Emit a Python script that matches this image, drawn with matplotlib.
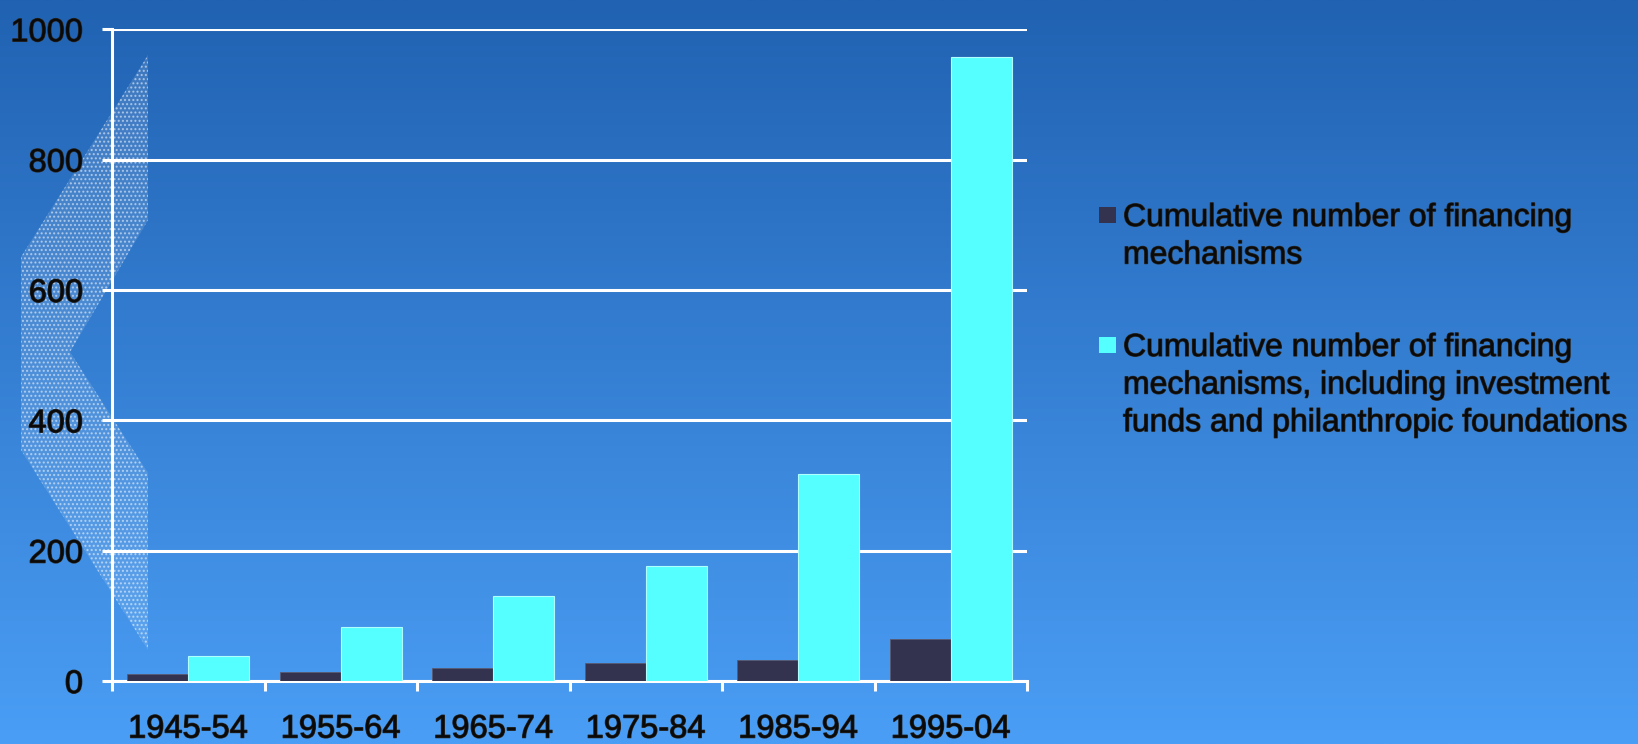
import numpy as np
import matplotlib
matplotlib.use("Agg")
import matplotlib.pyplot as plt
import matplotlib.patheffects as pe
from matplotlib.patches import Polygon, Rectangle

# data
periods = ["1945-54", "1955-64", "1965-74", "1975-84", "1985-94", "1995-04"]
mechanisms = [10, 14, 20, 27, 32, 65]
mechanisms_incl = [38, 83, 130, 176, 317, 957]
series_labels = [
    "Cumulative number of financing\nmechanisms",
    "Cumulative number of financing\nmechanisms, including investment\nfunds and philanthropic foundations",
]
series_colors = ["#33334f", "#55ffff"]
yticks = [0, 200, 400, 600, 800, 1000]

W, H = 1638, 744
plt.rcParams["font.family"] = ["Liberation Sans", "DejaVu Sans"]
fig = plt.figure(figsize=(W / 100, H / 100), dpi=100)
thick = [pe.withStroke(linewidth=0.9, foreground="#2a2a2a")]

# background: vertical blue gradient, in pixel coords (y down)
bg = fig.add_axes([0, 0, 1, 1], zorder=0)
bg.set_axis_off()
top = np.array([33, 98, 178]) / 255
bot = np.array([74, 158, 245]) / 255
t = np.linspace(0, 1, 256)[:, None]
grad = top + (bot - top) * t
bg.imshow(grad[:, None, :], aspect="auto", extent=[0, W, H, 0],
          interpolation="bilinear")
bg.set_xlim(0, W)
bg.set_ylim(H, 0)

# dotted chevron decoration on the left
chev = [(148, 55), (148, 220), (70, 352), (148, 473), (148, 650),
        (21, 450), (21, 257)]
bg.add_patch(Polygon(chev, closed=True, facecolor=(1, 1, 1, 0.12),
                     edgecolor=(1, 1, 1, 0.5), hatch="....", lw=0))

# main chart
ax = fig.add_axes([112 / W, (H - 681) / H, (1027 - 112) / W, (681 - 29.3) / H],
                  zorder=1)
ax.set_facecolor("none")
x = np.arange(len(periods)) + 0.5
w = 0.4
ax.bar(x - w / 2, mechanisms, w, color=series_colors[0],
       edgecolor="#5a5a70", lw=0.6, zorder=3)
ax.bar(x + w / 2, mechanisms_incl, w, color=series_colors[1],
       edgecolor="#b0ffff", lw=0.8, zorder=3)

ax.set_xlim(0, len(periods))
ax.set_ylim(0, 1000)
ax.set_yticks(yticks)
ax.yaxis.grid(True, color="white", lw=2.2)
ax.set_axisbelow(True)
for sp in ("top", "right"):
    ax.spines[sp].set_visible(False)
for sp in ("left", "bottom"):
    ax.spines[sp].set_color("white")
    ax.spines[sp].set_linewidth(2.2)

ax.set_xticks(np.arange(len(periods) + 1))
ax.set_xticklabels([])
ax.set_xticks(x, minor=True)
ax.set_xticklabels(periods, minor=True)
ax.tick_params(axis="x", which="major", direction="out", length=7.2,
               width=2.2, color="white")
ax.tick_params(axis="x", which="minor", length=0, pad=23.5,
               labelsize=23.5, labelcolor="#0a0a0a")
ax.tick_params(axis="y", direction="out", length=7.2, width=2.2,
               color="white", pad=13.7, labelsize=23.5, labelcolor="#0a0a0a")
for lab in ax.get_xticklabels(minor=True) + ax.get_yticklabels():
    lab.set_path_effects(thick)

# legend, drawn by hand in pixel coords
for i, (lab, col) in enumerate(zip(series_labels, series_colors)):
    y0 = 207 + i * 130
    bg.add_patch(Rectangle((1099, y0), 17, 16, facecolor=col,
                           edgecolor="none"))
    bg.text(1123, y0 - 4, lab, va="top", ha="left", fontsize=23,
            linespacing=1.33, color="#0a0a0a", path_effects=thick)

fig.savefig("out.png", dpi=100)
